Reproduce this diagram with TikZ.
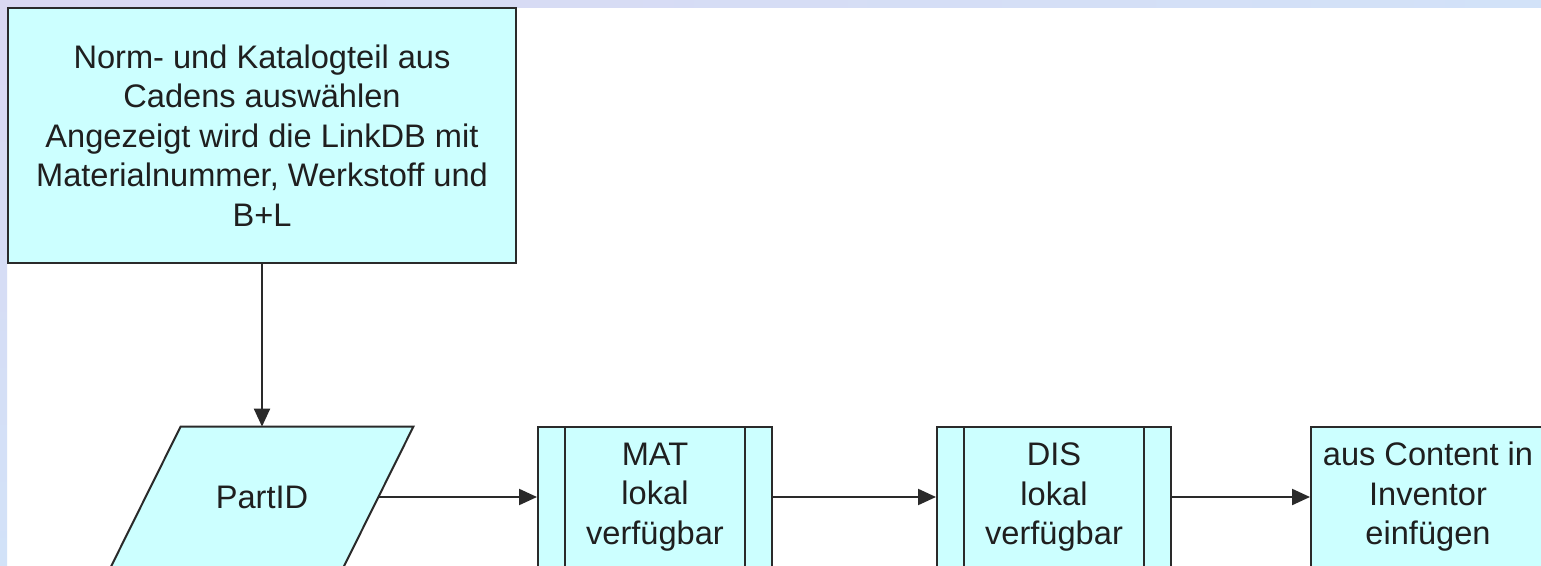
\documentclass[tikz,border=0pt]{standalone}
\usepackage{fontspec}
\setmainfont{Liberation Sans}
\usetikzlibrary{arrows.meta,calc}
\definecolor{boxfill}{HTML}{CCFFFF}
\definecolor{edge}{HTML}{2A2A2A}
\definecolor{bandA}{HTML}{DAD8F2}
\definecolor{bandB}{HTML}{D2E2F8}
\tikzset{
  flowbox/.style={draw=edge, line width=1pt, fill=boxfill, align=center,
    inner sep=0pt, font=\fontsize{16.3}{19.75}\selectfont, text=black!88},
  procbox/.style={flowbox, minimum width=117pt, minimum height=70pt},
  ghost/.style={align=center, inner sep=0pt, minimum width=116pt, minimum height=70pt,
    font=\fontsize{16.3}{19.75}\selectfont, text=black!88},
  flowarrow/.style={draw=edge, line width=1.1pt, -{Triangle[length=9pt,width=8pt]}},
  innerline/.style={draw=edge, line width=1pt}
}
\begin{document}
\begin{tikzpicture}[x=0.5pt,y=-0.5pt]
\useasboundingbox (0,0) rectangle (1541,566);
\clip (0,0) rectangle (1541,566);
\fill[white] (0,0) rectangle (1541,566);
% background bands
\shade[top color=bandA, bottom color=bandB] (0,0) rectangle (7,566);
\shade[left color=bandA, right color=bandB] (0,0) rectangle (1541,8);

% top box
\node[flowbox, minimum width=254pt, minimum height=127.5pt] (sel) at (262,135.5)
  {Norm- und Katalogteil aus\\Cadens auswählen\\Angezeigt wird die LinkDB mit\\Materialnummer, Werkstoff und\\B+L};

% PartID parallelogram
\node[ghost] (part) at (262,497) {};
\filldraw[draw=edge, line width=1pt, fill=boxfill]
  ($(part.north west)+(35,0)$) -- ($(part.north east)+(35,0)$)
  -- ($(part.south east)+(-35,0)$) -- ($(part.south west)+(-35,0)$) -- cycle;
\node[ghost] (parttext) at (262,497) {PartID};

% predefined processes
\node[procbox] (mat) at (655,497) {MAT\\lokal\\verfügbar};
\draw[innerline] ($(mat.north west)+(28,0)$) -- ($(mat.south west)+(28,0)$);
\draw[innerline] ($(mat.north east)+(-28,0)$) -- ($(mat.south east)+(-28,0)$);

\node[procbox] (dis) at (1054,497) {DIS\\lokal\\verfügbar};
\draw[innerline] ($(dis.north west)+(28,0)$) -- ($(dis.south west)+(28,0)$);
\draw[innerline] ($(dis.north east)+(-28,0)$) -- ($(dis.south east)+(-28,0)$);

\node[procbox] (ins) at (1428,497) {aus Content in\\Inventor\\einfügen};

% connectors
\draw[flowarrow] (sel.south) -- (part.north);
\draw[flowarrow] (part.east) -- (mat.west);
\draw[flowarrow] (mat.east) -- (dis.west);
\draw[flowarrow] (dis.east) -- (ins.west);
\end{tikzpicture}
\end{document}
